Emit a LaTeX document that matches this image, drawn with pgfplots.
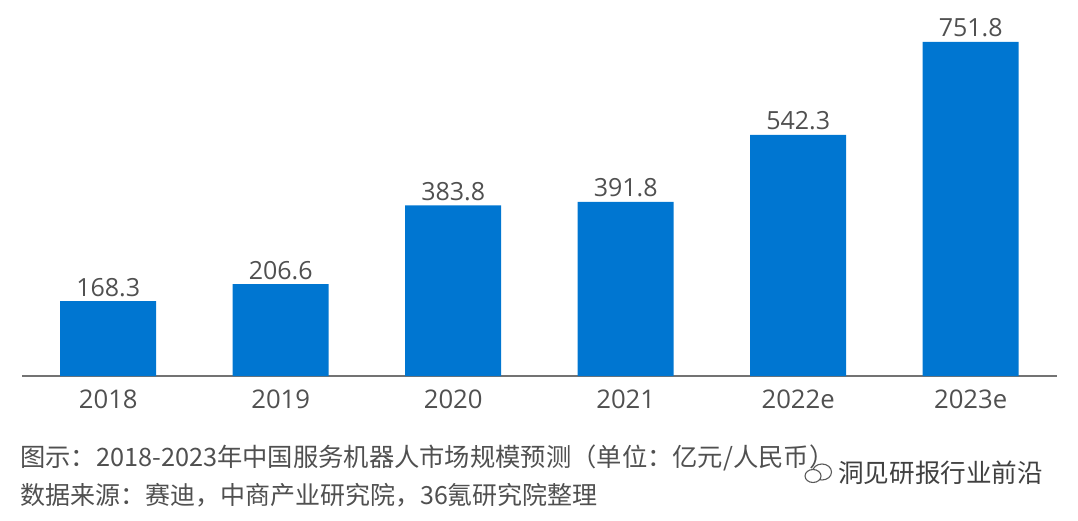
\documentclass[border=0pt]{standalone}
\usepackage{pgfplots}
\pgfplotsset{compat=1.18}
\usepackage{fontspec}
\setmainfont{Open Sans}
\newfontfamily\cjk{Noto Sans CJK SC}
\definecolor{barblue}{HTML}{0076D1}
\definecolor{txt}{HTML}{505050}
\begin{document}
\begin{tikzpicture}
\path[use as bounding box] (0pt,0pt) rectangle (1078pt,520pt);
\begin{axis}[
  at={(22pt,144pt)},anchor=south west,
  width=1035pt,height=376pt,scale only axis,
  xmin=-0.5,xmax=5.5,ymin=0,ymax=846,
  ybar,bar width=96pt,
  axis y line=none,
  axis x line*=bottom,
  axis line style={color=black!55,line width=1.2pt,-},
  xtick=data,
  xticklabels={2018,2019,2020,2021,2022e,2023e},
  xtick style={draw=none},
  xticklabel style={font=\fontsize{25.7}{26}\selectfont,text=txt,yshift=-6.5pt},
  nodes near coords,
  nodes near coords style={font=\fontsize{25}{25}\selectfont,text=txt,/pgf/number format/fixed,/pgf/number format/fixed zerofill,/pgf/number format/precision=1,/pgf/number format/assume math mode=true,inner sep=2pt,yshift=2.5pt},
  /pgf/number format/assume math mode=true,
  clip=false,
]
\addplot[fill=barblue,draw=none] coordinates {(0,168.3)(1,206.6)(2,383.8)(3,391.8)(4,542.3)(5,751.8)};
\end{axis}
\node[anchor=west,text=txt,font=\fontsize{25.3}{25}\selectfont\cjk,inner sep=0] at (20pt,62pt) {图示：2018-2023年中国服务机器人市场规模预测（单位：亿元/人民币）};
\node[anchor=west,text=txt,font=\fontsize{25}{25}\selectfont\cjk,inner sep=0] at (20pt,25pt) {数据来源：赛迪，中商产业研究院，36氪研究院整理};
\draw[black!65,line width=1.1pt,fill=white] (822pt,48pt) ellipse (9.5pt and 8pt);
\draw[black!65,line width=1.1pt,fill=white] (813pt,44pt) ellipse (8pt and 6.5pt);
\node[anchor=west,text=black!75,font=\fontsize{25.6}{25}\selectfont\cjk,inner sep=0] at (838pt,47pt) {洞见研报行业前沿};
\end{tikzpicture}
\end{document}
